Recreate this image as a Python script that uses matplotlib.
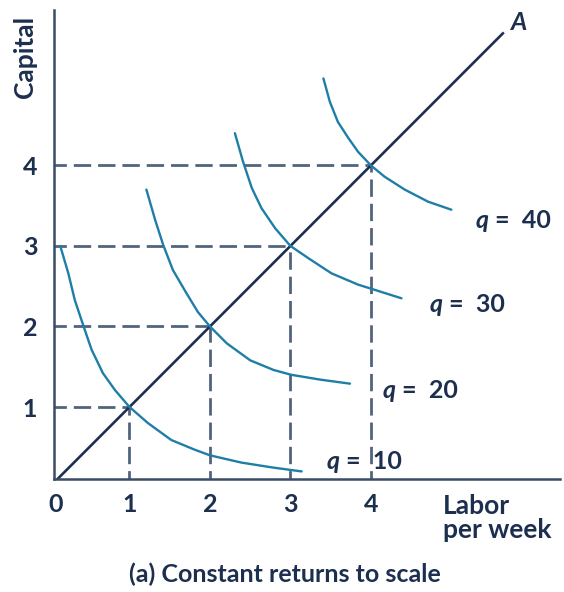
import matplotlib.pyplot as plt

plt.rcParams["font.family"] = ["Lato", "DejaVu Sans"]
plt.rcParams["lines.scale_dashes"] = False

# Isoquant points (labor, capital)
q10_L = [0.14, 0.24, 0.32, 0.43, 0.53, 0.67, 0.82, 1.0, 1.23, 1.52, 1.81, 2.0,
         2.39, 2.77, 3.14]
q10_K = [3.0, 2.66, 2.33, 2.0, 1.71, 1.42, 1.21, 1.0, 0.80, 0.59, 0.47, 0.40,
         0.31, 0.25, 0.20]
q20_L = [1.21, 1.32, 1.42, 1.54, 1.71, 1.85, 2.0, 2.21, 2.50, 2.79, 3.01, 3.37,
         3.74]
q20_K = [3.70, 3.32, 3.01, 2.70, 2.41, 2.18, 2.0, 1.79, 1.58, 1.46, 1.40, 1.34,
         1.29]
q30_L = [2.31, 2.41, 2.52, 2.64, 2.81, 3.0, 3.22, 3.51, 3.84, 4.0, 4.38]
q30_K = [4.40, 4.05, 3.72, 3.47, 3.22, 3.0, 2.85, 2.66, 2.52, 2.47, 2.35]
q40_L = [3.41, 3.49, 3.59, 3.72, 3.84, 4.0, 4.17, 4.42, 4.71, 5.0]
q40_K = [5.08, 4.79, 4.54, 4.34, 4.17, 4.0, 3.86, 3.70, 3.55, 3.45]

isoquants = [(q10_L, q10_K), (q20_L, q20_K), (q30_L, q30_K), (q40_L, q40_K)]
q_labels = ["10", "20", "30", "40"]
label_pos = [(3.45, 0.32), (4.15, 1.20), (4.73, 2.27), (5.30, 3.32)]
levels = [1, 2, 3, 4]
ray_end = 5.64

navy = "#1d2f4f"
teal = "#1f7ea6"
dash_col = "#52637d"
fs = 18

fig = plt.figure(figsize=(5.64, 5.92), dpi=100)
ax = fig.add_axes([54 / 564, 1 - 479 / 592, 506 / 564, 469 / 592])
ax.set_xlim(0.062, 6.35)
ax.set_ylim(0.106, 5.93)

# dashed guides
for v in levels:
    ax.plot([0, v], [v, v], color=dash_col, lw=2.0, dashes=(12.5, 5))
    ax.plot([v, v], [0, v], color=dash_col, lw=2.0, dashes=(12.5, 5))

# ray A
ax.plot([0, ray_end], [0, ray_end], color=navy, lw=1.9)
ax.text(5.74, 5.78, "A", fontsize=fs, fontweight="bold",
        fontstyle="italic", color=navy, ha="left", va="center")

for (L, K), lab, (tx, ty) in zip(isoquants, q_labels, label_pos):
    ax.plot(L, K, color=teal, lw=1.7, solid_capstyle="round")
    ax.text(tx, ty, "q", fontsize=fs, fontweight="bold", fontstyle="italic",
            color=navy, ha="left", va="center")
    ax.annotate("=  " + lab, (tx, ty), xytext=(19, 0), textcoords="offset pixels",
                fontsize=fs, fontweight="bold", color=navy, ha="left",
                va="center")

for side in ["top", "right"]:
    ax.spines[side].set_visible(False)
for side in ["left", "bottom"]:
    ax.spines[side].set_color("#3b4c66")
    ax.spines[side].set_linewidth(1.8)

ax.set_xticks([0.08, 1, 2, 3, 4])
ax.set_xticklabels(["0", "1", "2", "3", "4"])
ax.set_yticks([1, 2, 3, 4])
ax.tick_params(length=0, labelsize=fs, colors=navy)
ax.tick_params(axis="x", pad=10)
ax.tick_params(axis="y", pad=12)
for t in ax.get_xticklabels() + ax.get_yticklabels():
    t.set_fontweight("bold")

fig.text(25 / 564, 1 - 57 / 592, "Capital", rotation=90, fontsize=19,
         fontweight="bold", color=navy, ha="center", va="center")
fig.text(443 / 564, 1 - 494 / 592, "Labor\nper week", fontsize=19,
         fontweight="bold", color=navy, ha="left", va="top", linespacing=1.0)
fig.text(285 / 564, 1 - 582 / 592, "(a) Constant returns to scale",
         fontsize=fs, fontweight="bold", color=navy, ha="center",
         va="baseline")

fig.savefig("out.png", dpi=100)
